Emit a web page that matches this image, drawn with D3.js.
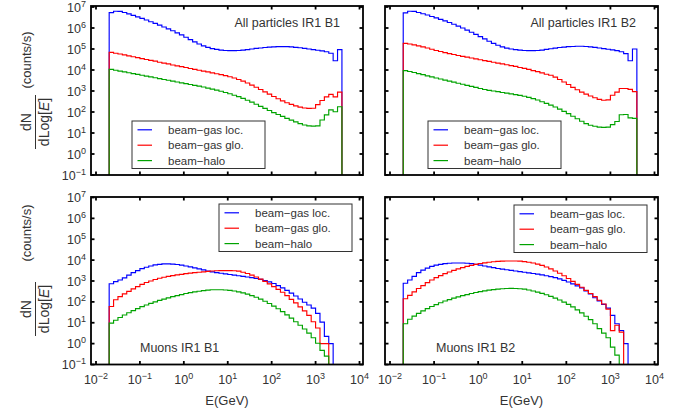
<!DOCTYPE html>
<html><head><meta charset="utf-8">
<script src="https://cdn.jsdelivr.net/npm/d3@7"></script>
<style>
body{margin:0;background:#fff}
svg text{font-family:"Liberation Sans",Arial,Helvetica,sans-serif;fill:#333}
</style>
</head><body>
<svg id="c" width="685" height="414"></svg>
<script>
// ---- data (bin edges and values given as log10 exponents) ----
const binEdgeExp = [-1.7,-1.6,-1.5,-1.4,-1.3,-1.2,-1.1,-1.0,-0.9,-0.8,-0.7,-0.6,-0.5,-0.4,-0.3,-0.2,-0.1,0.0,0.1,0.2,0.3,0.4,0.5,0.6,0.7,0.8,0.9,1.0,1.1,1.2,1.3,1.4,1.5,1.6,1.7,1.8,1.9,2.0,2.1,2.2,2.3,2.4,2.5,2.6,2.7,2.8,2.9,3.0,3.1,3.2,3.3,3.4,3.5,3.6];
const seriesNames = ["beam\u2212gas loc.","beam\u2212gas glo.","beam\u2212halo"];
const seriesColors = ["#0000ff","#ff0000","#00a300"];
const panelTitles = ["All particles IR1 B1","All particles IR1 B2","Muons IR1 B1","Muons IR1 B2"];
const xTickExp = [-2,-1,0,1,2,3,4];
const yTickExp = [-1,0,1,2,3,4,5,6,7];
const xTitle = "E(GeV)";

const allB1Loc  = [6.73,6.80,6.79,6.74,6.67,6.60,6.53,6.46,6.38,6.30,6.22,6.14,6.05,5.96,5.87,5.77,5.67,5.56,5.45,5.34,5.24,5.15,5.08,5.02,4.98,4.95,4.93,4.92,4.92,4.93,4.95,4.97,5.00,5.03,5.05,5.07,5.09,5.10,5.11,5.11,5.11,5.10,5.08,5.06,5.03,5.00,4.97,4.94,4.91,4.87,4.80,4.44,4.97];
const allB1Glo  = [4.84,4.80,4.76,4.72,4.67,4.63,4.59,4.54,4.50,4.46,4.42,4.37,4.33,4.29,4.24,4.20,4.16,4.12,4.07,4.03,3.99,3.95,3.91,3.86,3.82,3.78,3.73,3.68,3.62,3.55,3.47,3.38,3.28,3.18,3.07,2.96,2.85,2.74,2.63,2.53,2.44,2.36,2.29,2.23,2.19,2.17,2.18,2.35,2.55,2.72,2.84,2.72,2.95];
const allB1Halo = [4.03,3.99,3.95,3.91,3.87,3.83,3.79,3.75,3.71,3.67,3.63,3.59,3.55,3.51,3.47,3.43,3.39,3.35,3.31,3.27,3.23,3.19,3.14,3.09,3.04,2.99,2.93,2.87,2.80,2.73,2.65,2.56,2.47,2.37,2.27,2.17,2.07,1.97,1.88,1.79,1.70,1.61,1.53,1.45,1.38,1.34,1.33,1.34,1.62,1.86,2.10,2.01,2.25];

const allB2Loc  = [6.72,6.80,6.79,6.74,6.68,6.62,6.55,6.48,6.41,6.34,6.26,6.18,6.09,6.00,5.90,5.80,5.70,5.59,5.48,5.37,5.27,5.18,5.10,5.04,5.00,4.97,4.95,4.93,4.92,4.92,4.93,4.95,4.98,5.01,5.04,5.07,5.09,5.11,5.12,5.13,5.13,5.12,5.10,5.08,5.05,5.02,4.99,4.96,4.92,4.87,4.78,4.44,5.00];
const allB2Glo  = [5.27,5.24,5.20,5.15,5.10,5.05,4.99,4.93,4.88,4.83,4.78,4.74,4.69,4.65,4.61,4.57,4.53,4.49,4.45,4.41,4.37,4.33,4.29,4.25,4.21,4.17,4.12,4.08,4.03,3.97,3.92,3.86,3.80,3.75,3.66,3.55,3.43,3.31,3.17,3.06,2.95,2.85,2.76,2.68,2.60,2.56,2.58,2.80,2.95,3.12,3.12,3.08,2.97];
const allB2Halo = [3.97,3.93,3.88,3.83,3.78,3.72,3.67,3.62,3.57,3.52,3.47,3.42,3.37,3.32,3.27,3.22,3.17,3.12,3.07,3.03,3.00,2.97,2.93,2.90,2.86,2.83,2.79,2.75,2.70,2.64,2.57,2.49,2.41,2.33,2.24,2.14,2.03,1.92,1.80,1.68,1.56,1.45,1.37,1.32,1.28,1.27,1.28,1.40,1.55,1.87,1.88,1.72,1.70];

const muB1Loc  = [2.87,2.97,3.05,3.15,3.28,3.40,3.50,3.59,3.66,3.72,3.77,3.80,3.82,3.82,3.81,3.79,3.76,3.72,3.68,3.63,3.58,3.53,3.48,3.44,3.40,3.37,3.34,3.31,3.28,3.25,3.22,3.19,3.16,3.12,3.08,3.02,2.96,2.88,2.78,2.67,2.55,2.42,2.28,2.14,1.98,1.85,1.70,1.45,1.03,0.35,0.00];
const muB1Glo  = [1.78,2.10,2.25,2.38,2.50,2.62,2.73,2.84,2.93,3.00,3.07,3.13,3.18,3.22,3.26,3.29,3.32,3.35,3.38,3.40,3.42,3.44,3.46,3.48,3.49,3.50,3.50,3.50,3.49,3.47,3.42,3.36,3.28,3.19,3.09,2.98,2.86,2.73,2.60,2.46,2.30,2.12,1.95,1.76,1.57,1.35,1.05,0.75,0.00,0.00];
const muB1Halo = [0.98,1.12,1.25,1.37,1.48,1.58,1.68,1.77,1.85,1.93,2.00,2.07,2.13,2.19,2.25,2.30,2.35,2.40,2.44,2.48,2.51,2.54,2.56,2.58,2.58,2.58,2.57,2.55,2.52,2.48,2.43,2.37,2.30,2.22,2.13,2.03,1.92,1.80,1.67,1.53,1.38,1.22,1.05,0.88,0.70,0.50,0.28,0.02,-0.32,-0.60];

const muB2Loc  = [2.89,3.05,3.22,3.40,3.52,3.62,3.70,3.76,3.80,3.83,3.85,3.86,3.86,3.86,3.85,3.83,3.80,3.76,3.72,3.68,3.64,3.60,3.57,3.54,3.51,3.48,3.45,3.42,3.39,3.36,3.33,3.29,3.25,3.21,3.16,3.10,3.03,2.95,2.86,2.77,2.67,2.53,2.38,2.20,2.05,1.88,1.70,1.35,0.95,0.63,0.00];
const muB2Glo  = [2.15,2.31,2.48,2.64,2.78,2.92,3.05,3.16,3.26,3.35,3.43,3.51,3.58,3.64,3.70,3.75,3.80,3.84,3.87,3.90,3.92,3.94,3.95,3.96,3.96,3.96,3.95,3.93,3.90,3.86,3.81,3.75,3.67,3.58,3.48,3.37,3.25,3.12,2.98,2.84,2.70,2.55,2.40,2.25,2.08,1.90,1.65,0.62,0.88,0.55];
const muB2Halo = [0.95,1.17,1.32,1.45,1.57,1.68,1.78,1.87,1.96,2.04,2.11,2.18,2.24,2.30,2.35,2.40,2.45,2.49,2.53,2.56,2.59,2.61,2.63,2.64,2.65,2.64,2.63,2.61,2.57,2.52,2.47,2.41,2.34,2.26,2.18,2.09,1.99,1.88,1.76,1.62,1.47,1.31,1.15,0.95,0.72,0.50,0.28,-0.17,-0.55];

// ---- layout ----
const svg = d3.select("#c");
const binEdges = binEdgeExp.map(e => Math.pow(10, e));
const panels = [
  {x0:91,  x1:363, y0:6,   y1:175,   ry0:7,     data:[allB1Loc,allB1Glo,allB1Halo], title:panelTitles[0], tx:340, ty:27,  anchor:"end",   leg:[132,121], yLab:true,  xLab:false, yt:{frac:122, cnt:60}},
  {x0:385, x1:658, y0:6,   y1:175,   ry0:7,     data:[allB2Loc,allB2Glo,allB2Halo], title:panelTitles[1], tx:636, ty:27,  anchor:"end",   leg:[428,121], yLab:false, xLab:false},
  {x0:91,  x1:363, y0:197, y1:364.5, ry0:197.5, data:[muB1Loc,muB1Glo,muB1Halo],    title:panelTitles[2], tx:140, ty:352, anchor:"start", leg:[219,204], yLab:true,  xLab:true, yt:{frac:309, cnt:233}},
  {x0:385, x1:658, y0:197, y1:364.5, ry0:197.5, data:[muB2Loc,muB2Glo,muB2Halo],    title:panelTitles[3], tx:436, ty:352, anchor:"start", leg:[514,205], yLab:false, xLab:true}
];

function sup(sel, exp, baseSize, supSize){
  sel.append("tspan").text("10").attr("font-size", baseSize);
  sel.append("tspan").text(String(exp).replace("-", "\u2212")).attr("font-size", supSize).attr("dy", -5);
}

panels.forEach(p => {
  const x = d3.scaleLog().domain([1e-2, 1e4]).range([p.x0 + 5, p.x1 - 3.5]);
  const y = d3.scaleLog().domain([0.1, 1e7]).range([p.y1, p.ry0]);
  const g = svg.append("g");

  // series (step histograms)
  const line = d3.line().x(d => x(d[0])).y(d => y(d[1]));
  p.data.forEach((vals, si) => {
    const pts = [[binEdges[0], 0.1]];
    vals.forEach((e, i) => {
      const v = Math.pow(10, e);
      pts.push([binEdges[i], v], [binEdges[i + 1], v]);
    });
    pts.push([binEdges[vals.length], 0.1]);
    g.append("path").attr("d", line(pts)).attr("fill", "none")
      .attr("stroke", seriesColors[si]).attr("stroke-width", 1.15)
      .attr("stroke-linejoin", "miter");
  });

  // frame
  g.append("rect").attr("x", p.x0).attr("y", p.y0)
    .attr("width", p.x1 - p.x0).attr("height", p.y1 - p.y0)
    .attr("fill", "none").attr("stroke", "#000").attr("stroke-width", 1.8);

  // ticks
  const tl = 3.5;
  xTickExp.forEach(e => {
    const xv = x(Math.pow(10, e));
    g.append("line").attr("x1", xv).attr("x2", xv).attr("y1", p.y1).attr("y2", p.y1 - tl).attr("stroke", "#000").attr("stroke-width", 1.8);
    g.append("line").attr("x1", xv).attr("x2", xv).attr("y1", p.y0).attr("y2", p.y0 + tl).attr("stroke", "#000").attr("stroke-width", 1.8);
    if (p.xLab) {
      const t = g.append("text").attr("x", xv).attr("y", p.y1 + 19).attr("text-anchor", "middle");
      sup(t, e, 12.5, 9);
    }
  });
  yTickExp.forEach(e => {
    const yv = y(Math.pow(10, e));
    g.append("line").attr("x1", p.x0).attr("x2", p.x0 + tl).attr("y1", yv).attr("y2", yv).attr("stroke", "#000").attr("stroke-width", 1.8);
    g.append("line").attr("x1", p.x1).attr("x2", p.x1 - tl).attr("y1", yv).attr("y2", yv).attr("stroke", "#000").attr("stroke-width", 1.8);
    if (p.yLab) {
      const t = g.append("text").attr("x", 86).attr("y", Math.max(yv + 4.5, 12)).attr("text-anchor", "end");
      sup(t, e, 12.5, 9);
    }
  });

  // panel title
  g.append("text").attr("x", p.tx).attr("y", p.ty).attr("text-anchor", p.anchor)
    .attr("font-size", 12.5).text(p.title);

  // legend
  const [lx, ly] = p.leg;
  const lg = g.append("g").attr("transform", `translate(${lx},${ly})`);
  lg.append("rect").attr("width", 133).attr("height", 47.5).attr("fill", "#fff")
    .attr("stroke", "#333").attr("stroke-width", 1);
  seriesNames.forEach((n, i) => {
    const ry = 8.8 + i * 15.4;
    lg.append("line").attr("x1", 5.5).attr("x2", 20).attr("y1", ry).attr("y2", ry)
      .attr("stroke", seriesColors[i]).attr("stroke-width", 1.2);
    lg.append("text").attr("x", 36).attr("y", ry + 4).attr("font-size", 11.5).text(n);
  });

  // x title
  if (p.xLab) {
    g.append("text").attr("x", (p.x0 + p.x1) / 2).attr("y", 405).attr("text-anchor", "middle")
      .attr("font-size", 13).text(xTitle);
  }
  // y title
  if (p.yt) {
    const fg = svg.append("g").attr("transform", `translate(35.5,${p.yt.frac}) rotate(-90)`);
    fg.append("line").attr("x1", -27).attr("x2", 27).attr("y1", 0).attr("y2", 0).attr("stroke", "#333").attr("stroke-width", 1);
    fg.append("text").attr("x", 0).attr("y", -4.5).attr("text-anchor", "middle").attr("font-size", 14).text("dN");
    const den = fg.append("text").attr("x", 0).attr("y", 13.5).attr("text-anchor", "middle").attr("font-size", 14);
    den.append("tspan").text("dLog[");
    den.append("tspan").text("E").attr("font-style", "italic");
    den.append("tspan").text("]");
    const cg = svg.append("g").attr("transform", `translate(35.5,${p.yt.cnt}) rotate(-90)`);
    cg.append("text").attr("x", 0).attr("y", -5).attr("text-anchor", "middle").attr("font-size", 13).text("(counts/s)");
  }
});
</script>
</body></html>
